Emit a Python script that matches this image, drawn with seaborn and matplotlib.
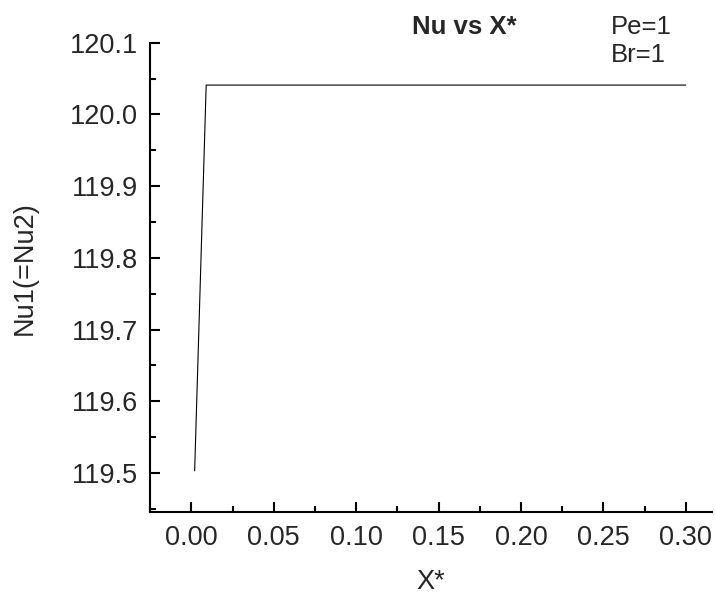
import matplotlib
matplotlib.use("Agg")
import matplotlib.pyplot as plt
import pandas as pd
import seaborn as sns
from matplotlib.ticker import MultipleLocator

x_star = [0.002, 0.009, 0.05, 0.10, 0.15, 0.20, 0.25, 0.30]
nu = [119.503, 120.041, 120.041, 120.041, 120.041, 120.041, 120.041, 120.041]

df = pd.DataFrame({"X*": x_star, "Nu": nu})

sns.set_style("ticks")
plt.rcParams["font.family"] = ["Liberation Sans", "DejaVu Sans"]

fig = plt.figure(figsize=(7.15, 5.94), dpi=100)
ax = fig.add_axes([0.21, 0.138, 0.786, 0.79])

sns.lineplot(data=df, x="X*", y="Nu", ax=ax, color="black", linewidth=0.8)

ax.set_xlim(-0.025, 0.316)
ax.set_ylim(119.4456, 120.1)
ax.xaxis.set_major_locator(MultipleLocator(0.05))
ax.xaxis.set_minor_locator(MultipleLocator(0.025))
ax.yaxis.set_major_locator(MultipleLocator(0.1))
ax.yaxis.set_minor_locator(MultipleLocator(0.05))
ax.xaxis.set_major_formatter(plt.FuncFormatter(lambda v, p: f"{v:.2f}"))
ax.yaxis.set_major_formatter(plt.FuncFormatter(lambda v, p: f"{v:.1f}"))

ax.tick_params(axis="both", which="major", direction="in", length=7, width=1.5,
               labelsize=19.5, pad=9, color="black")
ax.tick_params(axis="both", which="minor", direction="in", length=4, width=1.5, color="black")

sns.despine(ax=ax)
for side in ("left", "bottom"):
    ax.spines[side].set_linewidth(1.5)
    ax.spines[side].set_color("black")

ax.set_xlabel("X*", fontsize=19.5, labelpad=13)
ax.set_ylabel("Nu1(=Nu2)", fontsize=19.5)
ax.yaxis.set_label_coords(-0.2, 0.52)

fig.text(0.65, 0.955, "Nu vs X*", fontsize=18.5, fontweight="bold", ha="center", va="center")
fig.text(0.855, 0.955, "Pe=1", fontsize=18.5, ha="left", va="center")
fig.text(0.855, 0.907, "Br=1", fontsize=18.5, ha="left", va="center")

fig.savefig("out.png", dpi=100)
